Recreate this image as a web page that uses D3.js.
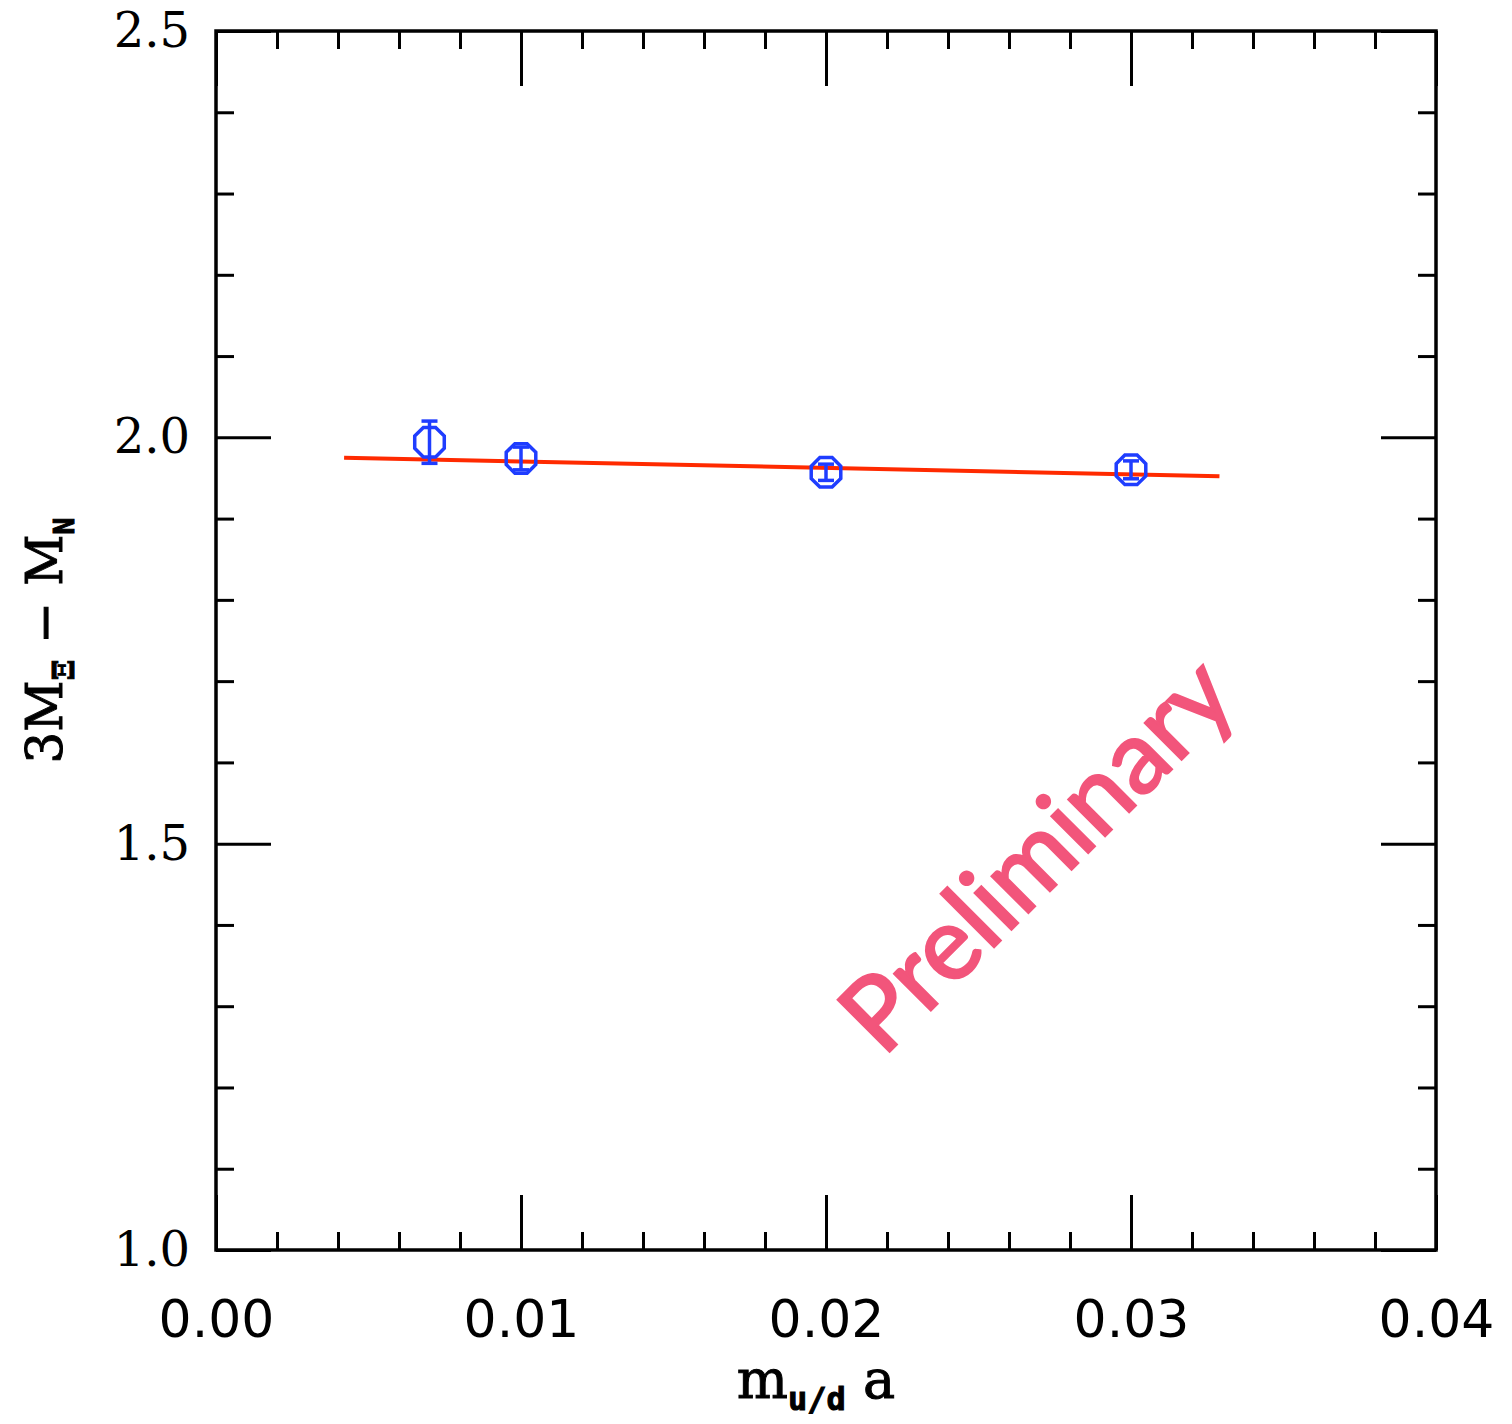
<!DOCTYPE html>
<html lang="en">
<head>
<meta charset="utf-8" />
<title>3M_Xi - M_N vs m_ud a</title>
<style>
  body { margin:0; background:#fff; }
  svg  { display:block; }
  .axis path   { display:none; }
  .axis line   { stroke:#000; stroke-width:3px; }
  .xlab text   { font-family:"DejaVu Sans",sans-serif; font-size:52px; fill:#000; }
  .ylab text   { font-family:"DejaVu Serif",serif; font-size:48px; fill:#000; }
  .title       { font-family:"DejaVu Serif",serif; fill:#000; }
</style>
</head>
<body>
<svg width="1512" height="1424"></svg>
<script src="https://cdn.jsdelivr.net/npm/d3@7"></script>
<script>
/* ---------- DATA ---------- */
const xVals   = [0.007, 0.010, 0.020, 0.030];
const yVals   = [1.994, 1.974, 1.957, 1.960];
const yErrs   = [0.026, 0.014, 0.010, 0.011];
const fitX    = [0.0042, 0.0329];
const fitY    = [1.975, 1.952];
const xMajor  = [0.00, 0.01, 0.02, 0.03, 0.04];
const xMajorLabels = ["0.00", "0.01", "0.02", "0.03", "0.04"];
const yMajor  = [1.0, 1.5, 2.0, 2.5];
const yMajorLabels = ["1.0", "1.5", "2.0", "2.5"];

/* ---------- SCALES ---------- */
const m = {left:216, right:1436, top:31, bottom:1250};
const x = d3.scaleLinear().domain([0, 0.04]).range([m.left, m.right]);
const y = d3.scaleLinear().domain([1.0, 2.5]).range([m.bottom, m.top]);

const svg = d3.select("svg");

const xMinor = d3.range(0, 0.0401, 0.002).filter(v => Math.abs(v/0.01 - Math.round(v/0.01)) > 1e-6);
const yMinor = d3.range(1.0, 2.501, 0.1).filter(v => Math.abs(v/0.5 - Math.round(v/0.5)) > 1e-6);

/* ---------- AXES (inward ticks on all four sides) ---------- */
const majorLen = 55, minorLen = 18;

svg.append("g").attr("class","axis xlab").attr("transform",`translate(0,${m.bottom})`)
  .call(d3.axisBottom(x).tickValues(xMajor).tickSize(-majorLen).tickPadding(0)
        .tickFormat((d,i) => xMajorLabels[i]))
  .selectAll("text").attr("y", 87).attr("dy", 0);
svg.append("g").attr("class","axis").attr("transform",`translate(0,${m.bottom})`)
  .call(d3.axisBottom(x).tickValues(xMinor).tickSize(-minorLen).tickFormat(""));
svg.append("g").attr("class","axis").attr("transform",`translate(0,${m.top})`)
  .call(d3.axisTop(x).tickValues(xMajor).tickSize(-majorLen).tickFormat(""));
svg.append("g").attr("class","axis").attr("transform",`translate(0,${m.top})`)
  .call(d3.axisTop(x).tickValues(xMinor).tickSize(-minorLen).tickFormat(""));

svg.append("g").attr("class","axis ylab").attr("transform",`translate(${m.left},0)`)
  .call(d3.axisLeft(y).tickValues(yMajor).tickSize(-majorLen).tickPadding(26)
        .tickFormat((d,i) => yMajorLabels[i]));
svg.append("g").attr("class","axis").attr("transform",`translate(${m.left},0)`)
  .call(d3.axisLeft(y).tickValues(yMinor).tickSize(-minorLen).tickFormat(""));
svg.append("g").attr("class","axis").attr("transform",`translate(${m.right},0)`)
  .call(d3.axisRight(y).tickValues(yMajor).tickSize(-majorLen).tickFormat(""));
svg.append("g").attr("class","axis").attr("transform",`translate(${m.right},0)`)
  .call(d3.axisRight(y).tickValues(yMinor).tickSize(-minorLen).tickFormat(""));

// frame
svg.append("rect")
  .attr("x", m.left).attr("y", m.top)
  .attr("width", m.right - m.left).attr("height", m.bottom - m.top)
  .attr("fill","none").attr("stroke","#000").attr("stroke-width",3.5);

/* ---------- FIT LINE ---------- */
svg.append("path")
  .datum(fitX.map((v,i) => [v, fitY[i]]))
  .attr("d", d3.line().x(d => x(d[0])).y(d => y(d[1])))
  .attr("fill","none").attr("stroke","#ff2a00").attr("stroke-width",4);

/* ---------- DATA POINTS ---------- */
const blue = "#1f3dff";
const pts = xVals.map((v,i) => ({x:v, y:yVals[i], e:yErrs[i]}));
const oct = d3.range(8).map(k => {
  const a = Math.PI/8 + k*Math.PI/4;
  return [Math.cos(a)*16, Math.sin(a)*16];
});
const g = svg.append("g");
const pt = g.selectAll("g").data(pts).join("g")
  .attr("transform", d => `translate(${x(d.x)},${y(d.y)})`);
pt.append("path")
  .attr("d", d3.line()(oct) + "Z")
  .attr("fill","none").attr("stroke",blue).attr("stroke-width",3.5);
pt.append("line")
  .attr("x1",0).attr("x2",0)
  .attr("y1", d => y(d.y + d.e) - y(d.y))
  .attr("y2", d => y(d.y - d.e) - y(d.y))
  .attr("stroke",blue).attr("stroke-width",3.5);
pt.selectAll("line.cap").data(d => [d.y + d.e, d.y - d.e].map(v => y(v) - y(d.y)))
  .join("line").attr("class","cap")
  .attr("x1",-8).attr("x2",8).attr("y1",d => d).attr("y2",d => d)
  .attr("stroke",blue).attr("stroke-width",3.5);

/* ---------- AXIS TITLES ---------- */
const yt = svg.append("text").attr("class","title")
  .attr("transform", `translate(62,${(m.top + m.bottom)/2}) rotate(-90)`)
  .attr("text-anchor","middle").attr("font-size",50)
  .attr("stroke","#000").attr("stroke-width",1);
yt.append("tspan").text("3M");
yt.append("tspan").attr("font-size",30).attr("font-weight","bold").attr("dy",12).text("Ξ");
yt.append("tspan").attr("dy",-12).text("  −  M");
yt.append("tspan").attr("font-size",28).attr("font-weight","bold")
  .attr("font-family","DejaVu Sans Mono, monospace").attr("dy",12).text("N");

const xt = svg.append("text").attr("class","title")
  .attr("x", (m.left + m.right)/2 - 10).attr("y", 1398)
  .attr("text-anchor","middle").attr("font-size",54)
  .attr("stroke","#000").attr("stroke-width",1);
xt.append("tspan").text("m");
xt.append("tspan").attr("font-size",32).attr("font-weight","bold")
  .attr("font-family","DejaVu Sans Mono, monospace").attr("dy",12).text("u/d");
xt.append("tspan").attr("dy",-12).text(" a");

/* ---------- WATERMARK ---------- */
svg.append("text")
  .attr("transform","translate(883,1058) rotate(-45)")
  .attr("font-family","Lato, sans-serif").attr("font-size",102)
  .attr("textLength",505).attr("lengthAdjust","spacingAndGlyphs")
  .attr("fill","#f2557b").attr("stroke","#f2557b").attr("stroke-width",2.5)
  .text("Preliminary");
</script>
</body>
</html>
